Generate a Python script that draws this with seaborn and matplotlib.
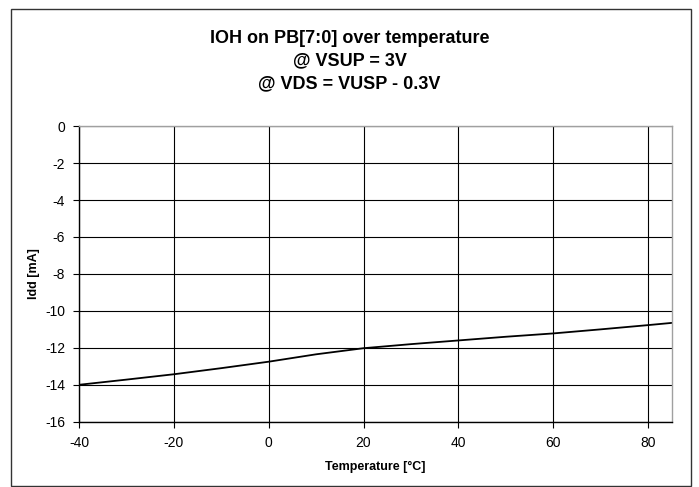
import pandas as pd
import numpy as np
import matplotlib.pyplot as plt
import seaborn as sns
from matplotlib.patches import Rectangle

# Valori
temperature = [-40, -30, -20, -10, 0, 10, 20, 30, 40, 50, 60, 70, 80, 85]
idd = [-14.0, -13.72, -13.43, -13.1, -12.75, -12.35, -12.02, -11.8, -11.6, -11.4, -11.22, -11.0, -10.77, -10.65]

df = pd.DataFrame({'Temperature': temperature, 'Idd': idd})

sns.set_style('white')
plt.rcParams['font.family'] = ['Liberation Sans', 'DejaVu Sans']
plt.rcParams['axes.unicode_minus'] = False
plt.rcParams['text.color'] = 'black'
plt.rcParams['axes.labelcolor'] = 'black'
plt.rcParams['xtick.color'] = 'black'
plt.rcParams['ytick.color'] = 'black'

fig = plt.figure(figsize=(6.99, 4.87), dpi=100)
ax = fig.add_axes([0.113, 0.134, 0.848, 0.607])

sns.lineplot(data=df, x='Temperature', y='Idd', color='black', linewidth=1.3, ax=ax)

ax.set_xlim(-40, 85)
ax.set_ylim(-16, 0)
ax.set_xticks(range(-40, 81, 20))
ax.set_yticks(range(-16, 1, 2))
ax.grid(True, color='black', linewidth=0.8)
ax.tick_params(axis='both', labelsize=10, length=4, direction='out', color='black',
               bottom=True, left=True, pad=6)
for side in ['left', 'bottom']:
    ax.spines[side].set_color('black')
    ax.spines[side].set_linewidth(1.0)
for side in ['top', 'right']:
    ax.spines[side].set_color('#a0a0a0')
    ax.spines[side].set_linewidth(1.0)

ax.set_xlabel('Temperature [°C]', fontsize=9, fontweight='bold', labelpad=8)
ax.set_ylabel('Idd [mA]', fontsize=9, fontweight='bold')
ax.yaxis.set_label_coords(-0.065, 0.5)

fig.text(0.5, 0.939, 'IOH on PB[7:0] over temperature\n@ VSUP = 3V\n@ VDS = VUSP - 0.3V',
         ha='center', va='top', fontsize=13, fontweight='bold', linespacing=1.45)

# cornice esterna
fig.patches.append(Rectangle((11 / 699, 1 / 487), 680 / 699, 477 / 487, transform=fig.transFigure,
                             fill=False, edgecolor='#333333', linewidth=1.0))

plt.savefig('out.png', dpi=100)
